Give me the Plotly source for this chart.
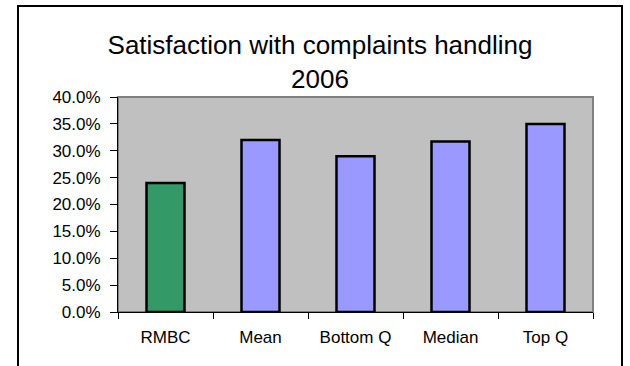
import plotly.graph_objects as go

categories = ["RMBC", "Mean", "Bottom Q", "Median", "Top Q"]
values = [0.24, 0.32, 0.29, 0.317, 0.35]
bar_colors = ["#339966", "#9999FF", "#9999FF", "#9999FF", "#9999FF"]
title_text = "Satisfaction with complaints handling<br>2006"

W, H = 630, 366
L, R, T, B = 118, 37, 97, 54
pw, ph = W - L - R, H - T - B

def px_x(px):
    return (px - L) / pw

def px_y(py):
    return (H - B - py) / ph

fig = go.Figure()
fig.add_trace(go.Bar(
    x=categories, y=values,
    marker=dict(color=bar_colors, line=dict(color="black", width=2.5)),
    width=0.4,
))

fig.update_layout(
    width=W, height=H,
    margin=dict(l=L, r=R, t=T, b=B),
    paper_bgcolor="white",
    plot_bgcolor="#C0C0C0",
    showlegend=False,
    font=dict(family="Arial, Liberation Sans, sans-serif", color="black", size=17),
    title=dict(
        text=title_text,
        x=320 / W, xanchor="center", xref="container",
        y=1 - 54 / H, yanchor="top", yref="container",
        font=dict(size=26, family="Arial, Liberation Sans, sans-serif", color="black"),
    ),
    shapes=[
        dict(type="rect", xref="paper", yref="paper", x0=0, x1=1, y0=0, y1=1,
             line=dict(color="#808080", width=2), layer="below"),
        dict(type="rect", xref="paper", yref="paper",
             x0=px_x(18), x1=px_x(622), y0=px_y(400), y1=px_y(6),
             line=dict(color="black", width=2), fillcolor="rgba(0,0,0,0)"),
    ],
)

fig.update_yaxes(
    range=[0, 0.4], dtick=0.05, tickformat=".1%",
    showgrid=False, zeroline=False,
    showline=True, linecolor="black", linewidth=1,
    ticks="outside", ticklen=7, tickcolor="black", tickwidth=1,
    ticklabelstandoff=6,
    tickfont=dict(size=17),
)
fig.update_xaxes(
    showgrid=False, zeroline=False,
    showline=True, linecolor="black", linewidth=1,
    ticks="outside", ticklen=6, tickcolor="black", tickwidth=1,
    tickson="boundaries",
    ticklabelstandoff=10,
    tickfont=dict(size=17),
)

fig.write_html("out.html")
